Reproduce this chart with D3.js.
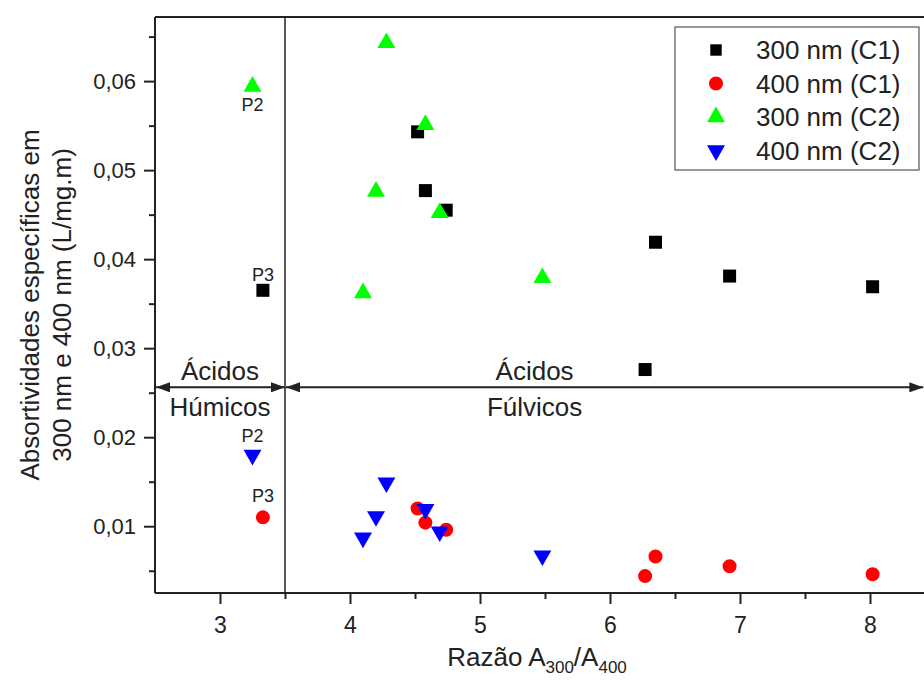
<!DOCTYPE html>
<html>
<head>
<meta charset="utf-8">
<script src="https://cdn.jsdelivr.net/npm/d3@7"></script>
<style>
  html, body { margin: 0; padding: 0; background: #fff; overflow: hidden; }
  svg { display: block; font-family: "Liberation Sans", Arial, sans-serif; }
</style>
</head>
<body>
<svg width="924" height="681"></svg>
<script>
"use strict";

// C1 samples (black squares at 300 nm, red circles at 400 nm)
const c1Ratio = [3.33, 4.52, 4.58, 4.74, 6.27, 6.35, 6.92, 8.02];
const c1Abs300 = [0.0365, 0.0543, 0.0477, 0.0455, 0.0276, 0.0419, 0.0381, 0.0369];
const c1Abs400 = [0.0110, 0.0120, 0.0104, 0.0096, 0.0044, 0.0066, 0.0055, 0.0046];

// C2 samples (green up triangles at 300 nm, blue down triangles at 400 nm)
const c2Ratio = [3.25, 4.10, 4.20, 4.28, 4.58, 4.69, 5.48];
const c2Abs300 = [0.0594, 0.0362, 0.0476, 0.0643, 0.0551, 0.0452, 0.0379];
const c2Abs400 = [0.0180, 0.0087, 0.0111, 0.0149, 0.0119, 0.0094, 0.0067];

const seriesNames = ["300 nm (C1)", "400 nm (C1)", "300 nm (C2)", "400 nm (C2)"];

// point labels: [series index, point index, text]
const pointLabels = [
  [2, 0, "P2"],
  [0, 0, "P3"],
  [3, 0, "P2"],
  [1, 0, "P3"]
];

// region annotations
const regionSplit = 3.5;
const arrowLevel = 0.0256;
const regions = [
  { from: 2.5, to: 3.5, at: 3.0, top: "Ácidos", bottom: "Húmicos" },
  { from: 3.5, to: 8.41, at: 5.42, top: "Ácidos", bottom: "Fúlvicos" }
];

const xTicks = [3, 4, 5, 6, 7, 8];
const yTicks = [0.01, 0.02, 0.03, 0.04, 0.05, 0.06];

const svg = d3.select("svg");
const width = +svg.attr("width");
const height = +svg.attr("height");

const margin = { top: 17, left: 155 };
const plotRight = 935;
const plotBottom = 593;

const xScale = d3.scaleLinear().domain([2.5, 8.5]).range([margin.left, plotRight]);
const yScale = d3.scaleLinear().domain([0.0025, 0.0672]).range([plotBottom, margin.top]);

const series = [
  { name: seriesNames[0], xs: c1Ratio, ys: c1Abs300, type: d3.symbolSquare, size: 169, rot: 0, color: "#000000", labelDy: -9 },
  { name: seriesNames[1], xs: c1Ratio, ys: c1Abs400, type: d3.symbolCircle, size: 154, rot: 0, color: "#ff0000", labelDy: -15 },
  { name: seriesNames[2], xs: c2Ratio, ys: c2Abs300, type: d3.symbolTriangle, size: 140, rot: 0, color: "#00ff00", labelDy: 25 },
  { name: seriesNames[3], xs: c2Ratio, ys: c2Abs400, type: d3.symbolTriangle, size: 140, rot: 180, color: "#0000ff", labelDy: -13 }
];

svg.append("rect").attr("width", width).attr("height", height).attr("fill", "#fff");

const defs = svg.append("defs");
defs.append("marker")
  .attr("id", "head")
  .attr("viewBox", "0 0 14 10")
  .attr("refX", 14)
  .attr("refY", 5)
  .attr("markerUnits", "userSpaceOnUse")
  .attr("markerWidth", 14)
  .attr("markerHeight", 10)
  .attr("orient", "auto-start-reverse")
  .append("path")
  .attr("d", "M0,0 L14,5 L0,10 Z")
  .attr("fill", "#222");

// axes
const xAxis = d3.axisBottom(xScale).tickValues(xTicks).tickSize(11).tickPadding(8).tickFormat(d3.format("d"));
const xMinor = d3.axisBottom(xScale).tickValues(d3.range(3.5, 8.5, 1)).tickSize(6).tickFormat("");
const yAxis = d3.axisLeft(yScale).tickValues(yTicks).tickSize(11).tickPadding(8)
  .tickFormat(d => d3.format(".2f")(d).replace(".", ","));
const yMinor = d3.axisLeft(yScale).tickValues(d3.range(0.005, 0.066, 0.01)).tickSize(6).tickFormat("");

const xAxisG = svg.append("g").attr("transform", `translate(0,${plotBottom})`).call(xAxis);
svg.append("g").attr("transform", `translate(0,${plotBottom})`).call(xMinor).select(".domain").remove();
const yAxisG = svg.append("g").attr("transform", `translate(${margin.left},0)`).call(yAxis);
svg.append("g").attr("transform", `translate(${margin.left},0)`).call(yMinor).select(".domain").remove();

svg.selectAll(".domain").remove();
svg.selectAll(".tick line").attr("stroke", "#222").attr("stroke-width", 2);
xAxisG.selectAll("text").attr("font-size", 23).attr("fill", "#222").attr("dy", "0.9em");
yAxisG.selectAll("text").attr("font-size", 22).attr("fill", "#222");

// frame
const frame = svg.append("g").attr("stroke", "#222").attr("stroke-width", 2).attr("fill", "none");
frame.append("line").attr("x1", margin.left).attr("x2", plotRight).attr("y1", margin.top).attr("y2", margin.top);
frame.append("line").attr("x1", margin.left).attr("x2", plotRight).attr("y1", plotBottom).attr("y2", plotBottom);
frame.append("line").attr("x1", margin.left).attr("x2", margin.left).attr("y1", margin.top).attr("y2", plotBottom);
frame.append("line")
  .attr("x1", xScale(regionSplit)).attr("x2", xScale(regionSplit))
  .attr("y1", margin.top).attr("y2", plotBottom)
  .attr("stroke-width", 1.5);

// region arrows and labels
regions.forEach(r => {
  svg.append("line")
    .attr("x1", xScale(r.from) + 1).attr("x2", xScale(r.to))
    .attr("y1", yScale(arrowLevel)).attr("y2", yScale(arrowLevel))
    .attr("stroke", "#222").attr("stroke-width", 2)
    .attr("marker-start", "url(#head)").attr("marker-end", "url(#head)");
  svg.append("text")
    .attr("x", xScale(r.at)).attr("y", yScale(arrowLevel) - 7)
    .attr("text-anchor", "middle").attr("font-size", 26).attr("fill", "#222")
    .text(r.top);
  svg.append("text")
    .attr("x", xScale(r.at)).attr("y", yScale(arrowLevel) + 29)
    .attr("text-anchor", "middle").attr("font-size", 26).attr("fill", "#222")
    .text(r.bottom);
});

// points
series.forEach(s => {
  const sym = d3.symbol().type(s.type).size(s.size);
  svg.append("g").selectAll("path")
    .data(s.xs.map((x, i) => ({ x, y: s.ys[i] })))
    .join("path")
    .attr("d", sym)
    .attr("transform", d => `translate(${xScale(d.x)},${yScale(d.y)}) rotate(${s.rot})`)
    .attr("fill", s.color);
});

// point labels
pointLabels.forEach(([si, pi, txt]) => {
  const s = series[si];
  svg.append("text")
    .attr("x", xScale(s.xs[pi]))
    .attr("y", yScale(s.ys[pi]) + s.labelDy)
    .attr("text-anchor", "middle").attr("font-size", 18).attr("fill", "#222")
    .text(txt);
});

// axis titles
const xTitle = svg.append("text")
  .attr("x", 537).attr("y", 666)
  .attr("text-anchor", "middle").attr("font-size", 26).attr("fill", "#222");
xTitle.append("tspan").text("Razão A");
xTitle.append("tspan").attr("font-size", 17).attr("dy", 7).text("300");
xTitle.append("tspan").attr("dy", -7).text("/A");
xTitle.append("tspan").attr("font-size", 17).attr("dy", 7).text("400");

const yTitle = svg.append("text")
  .attr("transform", `translate(0,${(margin.top + plotBottom) / 2}) rotate(-90)`)
  .attr("text-anchor", "middle").attr("font-size", 26).attr("fill", "#222");
yTitle.append("tspan").attr("x", 0).attr("y", 39).text("Absortividades específicas em");
yTitle.append("tspan").attr("x", 0).attr("y", 71).text("300 nm e 400 nm (L/mg.m)");

// legend
const legend = svg.append("g").attr("transform", "translate(675,27)");
legend.append("rect")
  .attr("width", 244).attr("height", 143)
  .attr("fill", "#fff").attr("stroke", "#555").attr("stroke-width", 1.2);
series.forEach((s, i) => {
  const row = legend.append("g").attr("transform", `translate(0,${23 + i * 33.5})`);
  row.append("path")
    .attr("d", d3.symbol().type(s.type).size(i === 0 ? 130 : s.size))
    .attr("transform", `translate(41,0) rotate(${s.rot})`)
    .attr("fill", s.color);
  row.append("text")
    .attr("x", 81).attr("y", 9)
    .attr("font-size", 26).attr("fill", "#222")
    .text(s.name);
});
</script>
</body>
</html>
